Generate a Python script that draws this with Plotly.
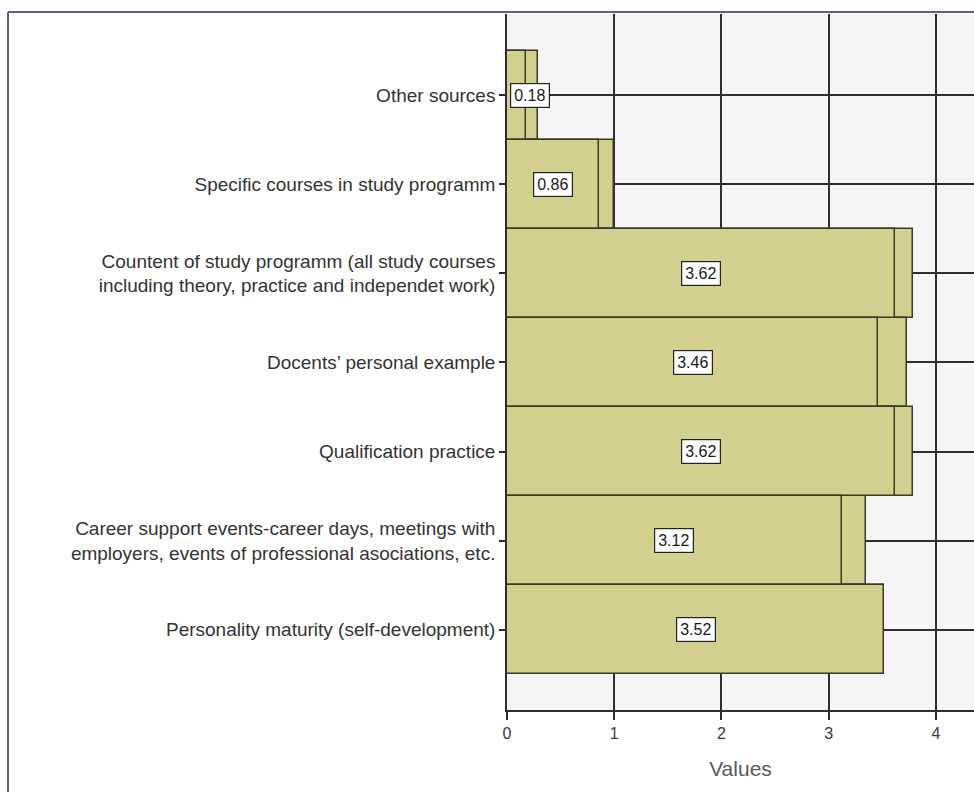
import plotly.graph_objects as go

# Sources of competence development: mean score and upper bound per source
categories = [
    "Other sources",
    "Specific courses in study programm",
    "Countent of study programm (all study courses<br>including theory, practice and independet work)",
    "Docents\u2019 personal example",
    "Qualification practice",
    "Career support events-career days, meetings with<br>employers, events of professional asociations, etc.",
    "Personality maturity (self-development)",
]
means = [0.18, 0.86, 3.62, 3.46, 3.62, 3.12, 3.52]
upper = [0.29, 1.00, 3.79, 3.73, 3.79, 3.35, 3.52]
x_ticks = [0, 1, 2, 3, 4]

FONT = "Liberation Sans, Arial, sans-serif"
BAR_FILL = "#d3d08f"
BAR_LINE = "#3a3a26"
GRID = "#2e2e2e"

fig = go.Figure()

# upper segment drawn first, mean bar overlaid on top
fig.add_trace(go.Bar(
    y=categories, x=upper, orientation="h", width=1,
    marker=dict(color=BAR_FILL, line=dict(color=BAR_LINE, width=1.5)),
    hoverinfo="skip", showlegend=False,
))
fig.add_trace(go.Bar(
    y=categories, x=means, orientation="h", width=1,
    marker=dict(color=BAR_FILL, line=dict(color=BAR_LINE, width=1.5)),
    showlegend=False,
))

# boxed value labels centred in each mean bar
annotations = []
for cat, v in zip(categories, means):
    narrow = v / 2 < 0.2
    annotations.append(dict(
        x=0 if narrow else v / 2, y=cat, xref="x", yref="y",
        xanchor="left" if narrow else "center", xshift=3 if narrow else 0,
        text=f"{v:.2f}", showarrow=False,
        font=dict(family=FONT, size=16, color="#1a1a1a"),
        bgcolor="white", bordercolor="#222222", borderwidth=1.2, borderpad=3,
    ))

fig.update_layout(
    width=974, height=792,
    margin=dict(l=507, r=0, t=14, b=82),
    paper_bgcolor="white", plot_bgcolor="#f5f4f7",
    barmode="overlay", bargap=0,
    font=dict(family=FONT, color="#2a2a2a"),
    annotations=annotations,
    shapes=[
        # outer frame (left and top edges)
        dict(type="line", xref="paper", yref="paper", x0=-1.0685, x1=1.01,
             y0=1.003, y1=1.003, line=dict(color="#56657a", width=2), layer="above"),
        dict(type="line", xref="paper", yref="paper", x0=-1.0685, x1=-1.0685,
             y0=1.003, y1=-0.13, line=dict(color="#56657a", width=2), layer="above"),
    ],
)

fig.update_xaxes(
    range=[0, 4.355], tickvals=x_ticks, ticktext=[str(t) for t in x_ticks],
    showgrid=True, gridcolor=GRID, gridwidth=1.5,
    zeroline=False, showline=True, linecolor=GRID, linewidth=1.5,
    ticks="outside", ticklen=8, tickcolor=GRID, tickwidth=1.5,
    tickfont=dict(family=FONT, size=16, color="#3a3a3a"),
    title=dict(text="Values", font=dict(family=FONT, size=21, color="#5a5a5a"), standoff=20),
)
fig.update_yaxes(
    categoryorder="array", categoryarray=categories,
    range=[6.9, -0.91],
    showgrid=True, gridcolor=GRID, gridwidth=1.5,
    zeroline=False, showline=True, linecolor=GRID, linewidth=1.5,
    ticks="outside", ticklen=6, tickcolor=GRID, tickwidth=1.5,
    tickfont=dict(family=FONT, size=19, color="#333333"),
)

fig.write_html("out.html")
